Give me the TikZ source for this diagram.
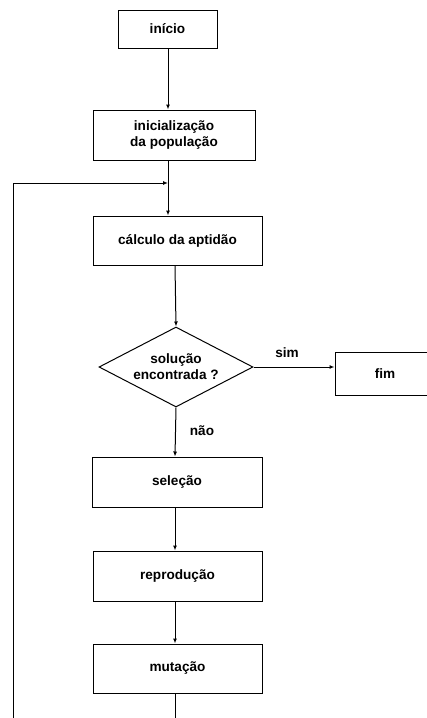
\documentclass[tikz,border=0pt]{standalone}
\usepackage{fontspec}
\setmainfont{Liberation Sans}
\usetikzlibrary{arrows.meta,shapes.geometric}
\begin{document}
\begin{tikzpicture}[x=1pt,y=-1pt,
  line width=1pt,
  box/.style={draw,rectangle,inner sep=0pt,align=center,font=\fontsize{13.6}{16}\selectfont\bfseries},
  dia/.style={draw,diamond,inner sep=0pt,align=center,font=\fontsize{13.6}{16}\selectfont\bfseries},
  lbl/.style={font=\fontsize{13.6}{16}\selectfont\bfseries,inner sep=0pt},
  arr/.style={-{Latex[length=5pt,width=4pt]}}]
\useasboundingbox (0,0) rectangle (427,718);
\clip (0,0) rectangle (427,718);
\node[box,minimum width=99pt,minimum height=38pt] (inicio) at (167.5,29) {início};
\node[box,minimum width=162pt,minimum height=50pt] (init) at (174,135) {inicialização\\da população};
\node[box,minimum width=169pt,minimum height=49pt] (calc) at (177.5,240.5) {cálculo da aptidão};
\node[dia,minimum width=154pt,minimum height=80pt,aspect=1.925] (dec) at (176,367) {solução\\encontrada ?};
\node[box,minimum width=100pt,minimum height=43pt] (fim) at (385,373.5) {fim};
\node[box,minimum width=170pt,minimum height=50pt] (sel) at (177,482) {seleção};
\node[box,minimum width=169pt,minimum height=50pt] (rep) at (177.5,576) {reprodução};
\node[box,minimum width=169pt,minimum height=49pt] (mut) at (177.5,668.5) {mutação};
\node[lbl] (sim) at (287,353) {sim};
\node[lbl] (nao) at (202,431) {não};
\coordinate (top) at (168,0);
\coordinate (spine) at (175,0);
\coordinate (loopbot) at (13,718);
\coordinate (loopjoin) at (168,183);
\coordinate (botend) at (175,718);
\draw[arr] (inicio.south -| top) -- (init.north -| top);
\draw[arr] (init.south -| top) -- (calc.north -| top);
\draw[arr] (loopbot) |- (loopjoin);
\draw[arr] (calc.south -| spine) -- (dec.north);
\draw[arr] (dec.east) -- (dec.east -| fim.west);
\draw[arr] (dec.south) -- (sel.north -| spine);
\draw[arr] (sel.south -| spine) -- (rep.north -| spine);
\draw[arr] (rep.south -| spine) -- (mut.north -| spine);
\draw (mut.south -| spine) -- (botend);
\end{tikzpicture}
\end{document}
